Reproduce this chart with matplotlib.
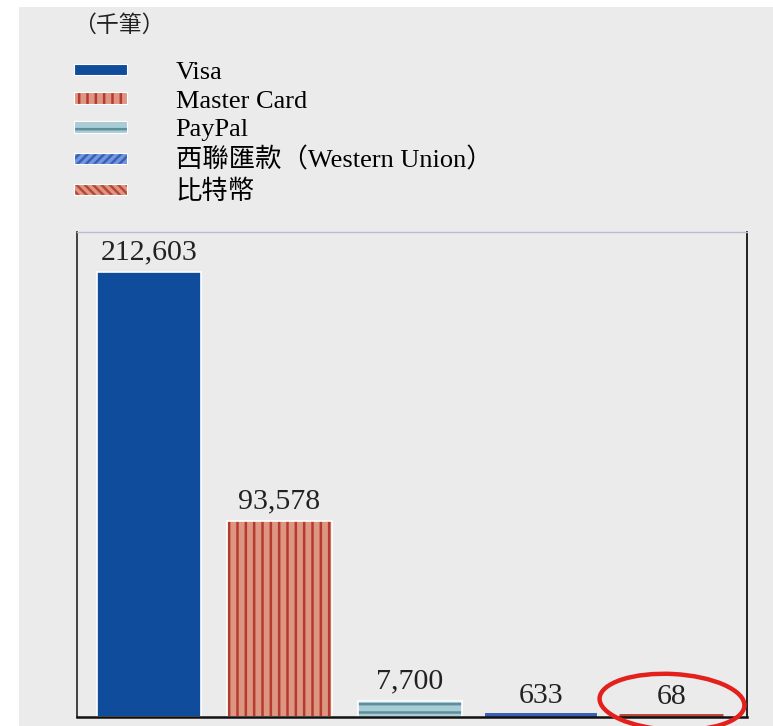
import matplotlib; matplotlib.use("Agg")
import matplotlib.pyplot as plt
from matplotlib.patches import Rectangle, Ellipse

plt.rcParams.update({"hatch.linewidth": 1.8})

# ---- data (千筆) ----
labels = ["Visa", "Master Card", "PayPal", "西聯匯款（Western Union）", "比特幣"]
values = [212603, 93578, 7700, 633, 68]
value_text = ["212,603", "93,578", "7,700", "633", "68"]

faces = ["#0f4c9c", "#dd9682", "#a9cdd7", "#7496dc", "#dd9682"]
hatch_cols = ["#0f4c9c", "#b73a2e", "#5e8e99", "#3a5fb8", "#b8463a"]
hatches = [None, "||", "--", "////", "\\\\\\\\"]

BG = "#ebebeb"
SERIF = ["Liberation Serif", "Noto Sans CJK TC"]

fig = plt.figure(figsize=(7.73, 7.26), dpi=100, facecolor="white")
fig.add_artist(Rectangle((19/773, 0), 1, 1 - 7/726, transform=fig.transFigure,
                         fc=BG, ec="none", zorder=-10))

ax = fig.add_axes([77/773, 1 - 717/726, (747-77)/773, (717-232)/726])
ax.set_facecolor(BG)
x = range(len(values))
bars = ax.bar(x, values, width=0.8, color=faces, edgecolor="white", linewidth=1.2, zorder=2)
for b, h, hc, v in zip(bars, hatches, hatch_cols, values):
    if h:
        b.set_hatch(h)
        b._hatch_color = matplotlib.colors.to_rgba(hc)
for xi, v, t in zip(x, values, value_text):
    ax.annotate(t, (xi, v), xytext=(0, 5), textcoords="offset points", ha="center",
                va="bottom", fontsize=21.5, family=SERIF, color="#222")

# tiny bars: outline them so they stay visible like in the source
for b, hc, v in zip(bars, hatch_cols, values):
    if v < 1000:
        b.set_edgecolor(hc); b.set_linewidth(5)

ax.set_xlim(-0.55, 4.58)
ax.set_ylim(0, 231800)
ax.set_xticks([]); ax.set_yticks([])
ax.spines["left"].set_color("#333"); ax.spines["left"].set_linewidth(1.3)
ax.spines["right"].set_color("#111"); ax.spines["right"].set_linewidth(1.3)
ax.spines["top"].set_color("#b9b9d9"); ax.spines["top"].set_linewidth(1.0)
ax.spines["bottom"].set_color("#111"); ax.spines["bottom"].set_linewidth(1.8)

# unit label
fig.text(73/773, 1 - 25/726, "（千筆）", family=["Noto Sans CJK TC", "DejaVu Sans"],
         fontsize=16.5, va="center", ha="left", color="#222")

# legend (own handles: thin strips)
handles = [Rectangle((0, 0), 1, 1, fc=f, ec="white", lw=0.8, hatch=h)
           for f, h in zip(faces, hatches)]
leg = fig.legend(handles, labels, loc="upper left", bbox_to_anchor=(74/773, 1 - 62/726),
                 frameon=False, prop={"family": SERIF, "size": 19},
                 handlelength=2.0, handleheight=0.3, handletextpad=1.85,
                 labelspacing=0.25, borderpad=0, borderaxespad=0)
for p, hc in zip(leg.get_patches(), hatch_cols):
    p._hatch_color = matplotlib.colors.to_rgba(hc)

# red circle around bitcoin value
fig.add_artist(Ellipse((6.72, 0.24), 1.45, 0.56, angle=-3, transform=fig.dpi_scale_trans,
                       fill=False, ec="#e3201c", lw=3.2, clip_on=False))

fig.savefig("out.png", dpi=100, facecolor=fig.get_facecolor())
